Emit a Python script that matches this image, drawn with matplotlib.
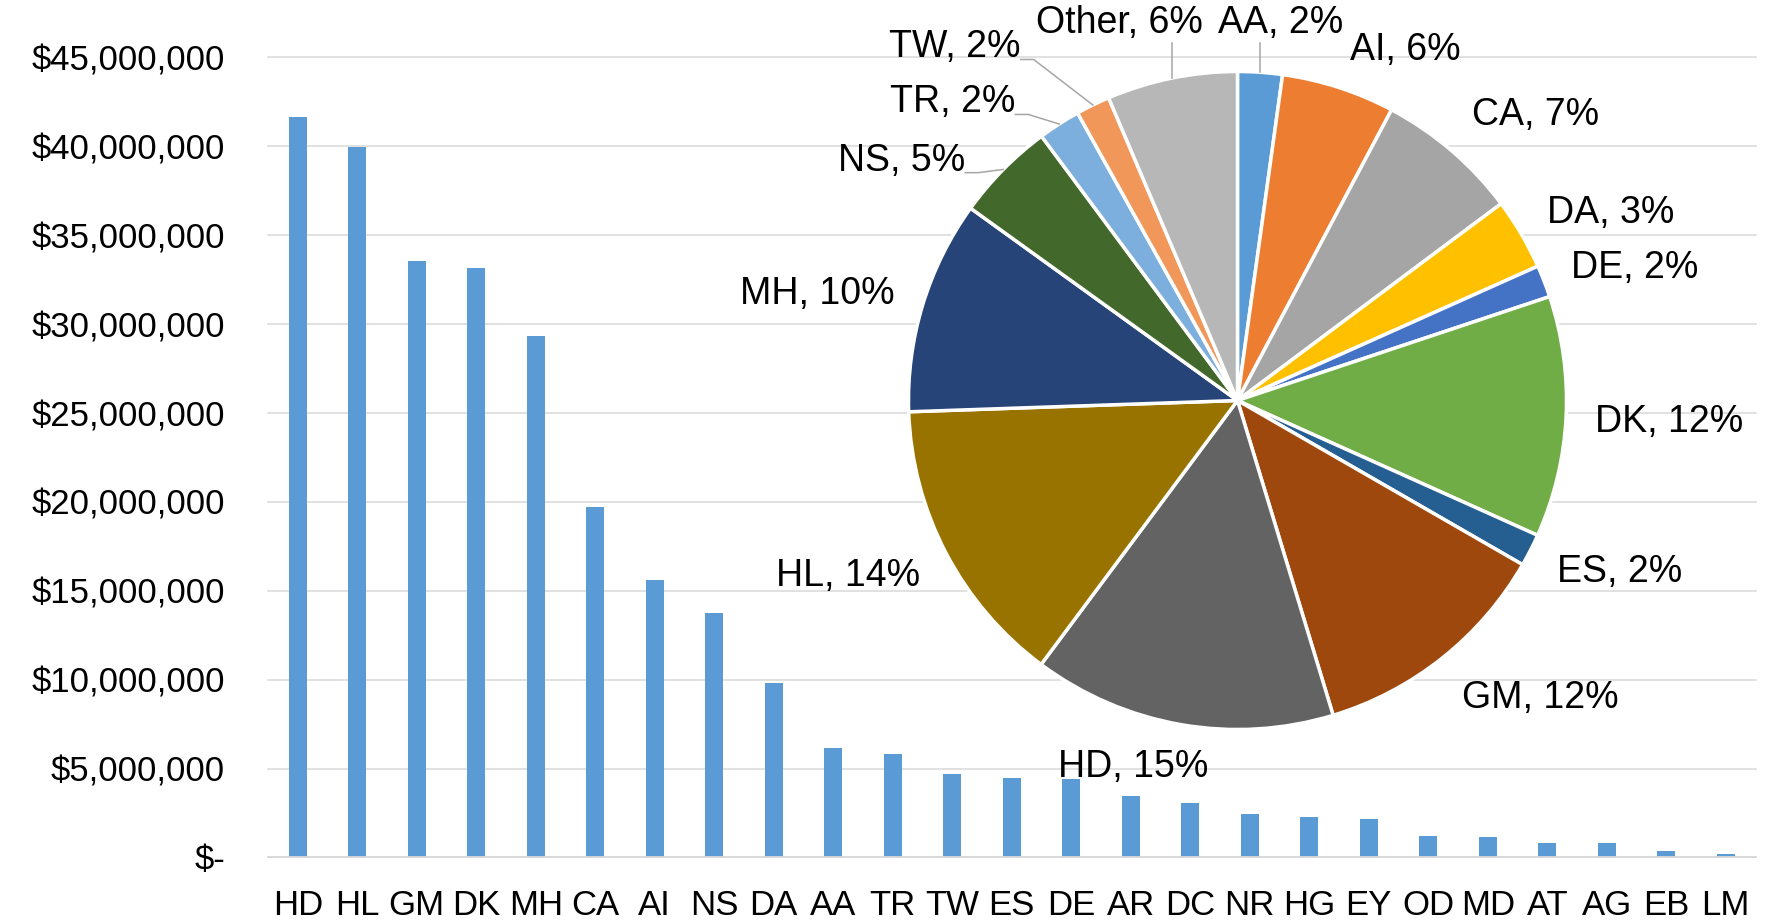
import matplotlib
matplotlib.use('Agg')
import matplotlib.pyplot as plt
import numpy as np
from matplotlib.ticker import FuncFormatter

plt.rcParams['font.family'] = ['Liberation Sans', 'DejaVu Sans']

# ---------------- data ----------------
categories = ['HD', 'HL', 'GM', 'DK', 'MH', 'CA', 'AI', 'NS', 'DA', 'AA', 'TR', 'TW', 'ES',
              'DE', 'AR', 'DC', 'NR', 'HG', 'EY', 'OD', 'MD', 'AT', 'AG', 'EB', 'LM']
amounts = [41.64e6, 39.95e6, 33.56e6, 33.13e6, 29.34e6, 19.70e6, 15.58e6, 13.74e6, 9.83e6,
           6.13e6, 5.81e6, 4.68e6, 4.46e6, 4.42e6, 3.44e6, 3.08e6, 2.46e6, 2.27e6, 2.16e6,
           1.22e6, 1.14e6, 0.81e6, 0.79e6, 0.375e6, 0.19e6]
y_ticks = [0, 5e6, 10e6, 15e6, 20e6, 25e6, 30e6, 35e6, 40e6, 45e6]

pie_groups = ['AA', 'AI', 'CA', 'DA', 'DE', 'DK', 'ES', 'GM', 'HD', 'HL', 'MH', 'NS', 'TR', 'TW']
other_name = 'Other'

# ---------------- styles ----------------
pie_colors = ['#5B9BD5', '#ED7D31', '#A5A5A5', '#FFC000', '#4472C4', '#70AD47', '#255E91',
              '#9E480E', '#636363', '#997300', '#264478', '#43682B', '#7CAFDD', '#F1975A',
              '#B7B7B7']
# label centre offsets in pie-radius units
label_offsets = {
    'AA': (0.132, 1.146), 'AI': (0.511, 1.065), 'CA': (0.907, 0.868), 'DA': (1.133, 0.570),
    'DE': (1.208, 0.403), 'DK': (1.313, -0.064), 'ES': (1.160, -0.520), 'GM': (0.919, -0.904),
    'HD': (-0.318, -1.115), 'HL': (-1.185, -0.532), 'MH': (-1.276, 0.323), 'NS': (-1.021, 0.729),
    'TR': (-0.866, 0.906), 'TW': (-0.859, 1.073), 'Other': (-0.360, 1.146)}
leader_kind = {'TW': 'elbow', 'TR': 'elbow', 'NS': 'elbow', 'Other': 'vertical', 'AA': 'vertical'}
FS_AXIS = 25
FS_PIE = 27

W, H = 1767, 921
fig = plt.figure(figsize=(W / 100, H / 100), dpi=100)

# ---------------- bar chart ----------------
L, R, B, T = 268, 1755.5, 857.4, 57.5
ax = fig.add_axes([L / W, 1 - B / H, (R - L) / W, (B - T) / H])
x = np.arange(len(categories))
ax.bar(x, amounts, width=0.31, color='#5B9BD5', zorder=2)
ax.set_xlim(-0.5, len(categories) - 0.5)
ax.set_ylim(0, y_ticks[-1])
ax.set_yticks(y_ticks)
ax.yaxis.set_major_formatter(FuncFormatter(lambda v, p: '$-' if v == 0 else f'${v:,.0f}'))
ax.set_xticks(x)
ax.set_xticklabels(categories)
ax.tick_params(axis='both', length=0, labelsize=FS_AXIS, colors='black')
ax.tick_params(axis='y', pad=31)
ax.tick_params(axis='x', pad=23)
ax.grid(axis='y', color='#D9D9D9', lw=1.1, zorder=0)
ax.set_axisbelow(True)
for gl in ax.get_ygridlines():
    gl.set_clip_on(False)
for s in ['left', 'right', 'top']:
    ax.spines[s].set_visible(False)
ax.spines['bottom'].set_color('#D9D9D9')
ax.spines['bottom'].set_linewidth(1.3)

# ---------------- pie chart ----------------
lookup = dict(zip(categories, amounts))
pie_vals = [lookup[g] for g in pie_groups]
pie_vals.append(sum(v for c, v in zip(categories, amounts) if c not in pie_groups))
pie_names = pie_groups + [other_name]

# whole-percent labels (largest remainder, summing to 100)
total = sum(pie_vals)
raw = [100 * v / total for v in pie_vals]
fl = [int(np.floor(p)) for p in raw]
need = 100 - sum(fl)
order = sorted(range(len(raw)), key=lambda i: raw[i] - fl[i], reverse=True)
for i in order[:need]:
    fl[i] += 1

cx, cy, r = 1237.5, 400.5, 329
pax = fig.add_axes([(cx - r) / W, 1 - (cy + r) / H, 2 * r / W, 2 * r / H])
pax.pie(pie_vals, colors=pie_colors, startangle=90, counterclock=False, radius=1,
        wedgeprops=dict(edgecolor='white', linewidth=2.5))
pax.set_xlim(-1, 1)
pax.set_ylim(-1, 1)
pax.set_aspect('auto')
pax.axis('off')

texts = {}
for name, pct in zip(pie_names, fl):
    dx, dy = label_offsets[name]
    texts[name] = pax.text(dx, dy, f'{name}, {pct}%', fontsize=FS_PIE, ha='center',
                           va='center', clip_on=False, zorder=5)

fig.canvas.draw()

def to_data(px, py):
    return (px - cx) / r, (cy - py) / r

cum = np.cumsum([0] + pie_vals) / total
for i, name in enumerate(pie_names):
    kind = leader_kind.get(name)
    if kind is None:
        continue
    mid = 2 * np.pi * (cum[i] + cum[i + 1]) / 2
    ex, ey = np.sin(mid), np.cos(mid)
    ecx, ecy = cx + ex * r, cy - ey * r
    lx, ly = label_offsets[name]
    lcy = cy - ly * r
    bb = texts[name].get_window_extent()
    if kind == 'elbow':
        sx = bb.x1
        sy = lcy + 12
        pts = [(sx, sy), (sx + 13, sy), (ecx, ecy)]
    else:
        pts = [(ecx, lcy + 20), (ecx, ecy)]
    dpts = [to_data(px, py) for px, py in pts]
    pax.plot([p[0] for p in dpts], [p[1] for p in dpts], color='#A6A6A6', lw=1.1,
             clip_on=False, zorder=3)

fig.savefig('out.png', dpi=100)
